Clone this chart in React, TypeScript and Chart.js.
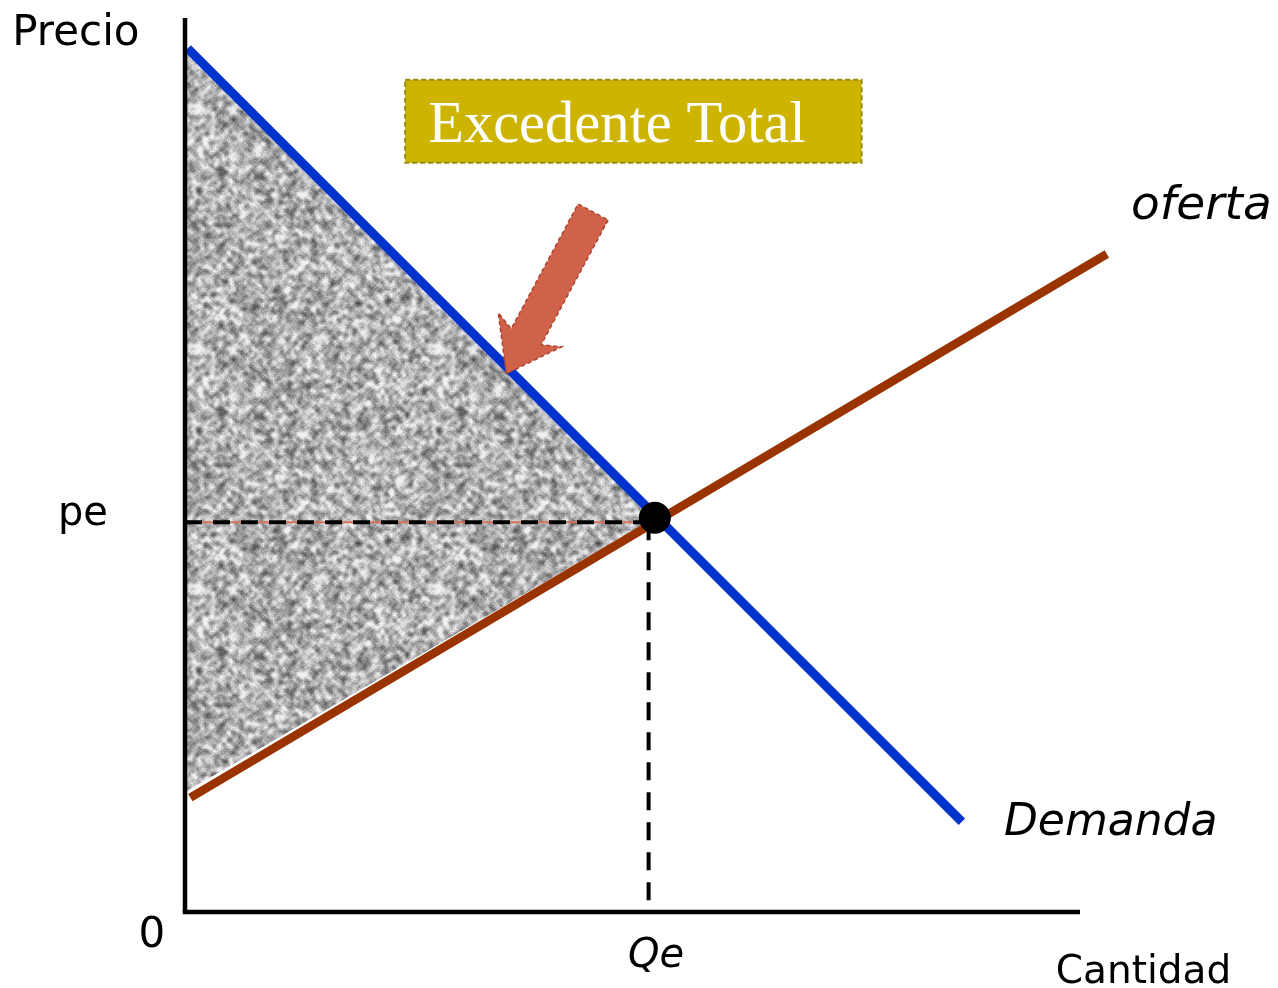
import React, { useEffect, useRef } from "react";
import { Chart, registerables } from "chart.js";

Chart.register(...registerables);

// ---- data (economic units, 0..100 on both axes) ----
const demandX = [0.3, 86.8];
const demandY = [96.6, 10.1];
const supplyX = [0.6, 103.0];
const supplyY = [12.8, 73.6];
const equilibriumQ = 52.5;
const equilibriumP = 44.1;
const peGuide = 43.6;
const qeGuide = 51.8;
const surplusTopY = 96.6;
const surplusBottomY = 13.4;
const axisMax = 100;

const axisTitles = ["Precio", "Cantidad"];
const tickLabels = ["0", "pe", "Qe"];
const curveLabels = ["oferta", "Demanda"];
const calloutText = "Excedente Total";

function hash(i: number, j: number) {
  const s = Math.sin(i * 127.1 + j * 311.7) * 43758.5453;
  return s - Math.floor(s);
}

function makeNoisePattern(ctx: CanvasRenderingContext2D) {
  const size = 240;
  const cell = 2;
  const n = size / cell;
  const c = document.createElement("canvas");
  c.width = size;
  c.height = size;
  const g = c.getContext("2d")!;
  const img = g.createImageData(size, size);
  const raw = (i: number, j: number) => hash(((i % n) + n) % n, ((j % n) + n) % n);
  // blurred cell noise
  const cellVal: number[] = [];
  for (let j = 0; j < n; j++)
    for (let i = 0; i < n; i++) {
      let s = 0, w = 0;
      for (let dj = -1; dj <= 1; dj++)
        for (let di = -1; di <= 1; di++) {
          const ww = di === 0 && dj === 0 ? 3 : 1;
          s += raw(i + di, j + dj) * ww;
          w += ww;
        }
      cellVal.push(s / w);
    }
  const cv = (i: number, j: number) => cellVal[(((j % n) + n) % n) * n + (((i % n) + n) % n)];
  for (let y = 0; y < size; y++) {
    for (let x = 0; x < size; x++) {
      const fx = x / cell - 0.5, fy = y / cell - 0.5;
      const i0 = Math.floor(fx), j0 = Math.floor(fy);
      const tx = fx - i0, ty = fy - j0;
      const a = cv(i0, j0) * (1 - tx) + cv(i0 + 1, j0) * tx;
      const b = cv(i0, j0 + 1) * (1 - tx) + cv(i0 + 1, j0 + 1) * tx;
      const v0 = a * (1 - ty) + b * ty;
      const fine = hash(x + 977, y + 313) - 0.5;
      let v = 176 + (v0 - 0.5) * 300 + fine * 30;
      v = Math.max(55, Math.min(240, v));
      const k = (y * size + x) * 4;
      img.data[k] = v;
      img.data[k + 1] = v;
      img.data[k + 2] = v + 3;
      img.data[k + 3] = 255;
    }
  }
  g.putImageData(img, 0, 0);
  return ctx.createPattern(c, "repeat")!;
}

const annotationPlugin = {
  id: "econAnnotations",
  afterDatasetsDraw(chart: any) {
    const ctx: CanvasRenderingContext2D = chart.ctx;
    const xs = chart.scales.x;
    const ys = chart.scales.y;
    const px = (v: number) => xs.getPixelForValue(v);
    const py = (v: number) => ys.getPixelForValue(v);
    ctx.save();
    ctx.textAlign = "left";
    ctx.textBaseline = "alphabetic";
    ctx.fillStyle = "#000";

    ctx.font = "42px 'DejaVu Sans'";
    ctx.fillText(axisTitles[0], px(-19.3), py(97.0));
    ctx.font = "39px 'DejaVu Sans'";
    ctx.fillText(axisTitles[1], px(97.3), py(-7.9));
    ctx.font = "42px 'DejaVu Sans'";
    ctx.fillText(tickLabels[0], px(-5.2), py(-3.9));
    ctx.font = "40px 'DejaVu Sans'";
    ctx.fillText(tickLabels[1], px(-14.2), py(43.3));
    ctx.font = "italic 40px 'DejaVu Sans'";
    ctx.fillText(tickLabels[2], px(49.5), py(-6.15));
    ctx.font = "italic 47px 'DejaVu Sans'";
    ctx.fillText(curveLabels[0], px(105.7), py(77.5));
    ctx.font = "italic 44px 'DejaVu Sans'";
    ctx.fillText(curveLabels[1], px(91.5), py(8.6));

    // callout box
    const bx0 = px(24.6), bx1 = px(75.6), by0 = py(93.1), by1 = py(83.8);
    ctx.fillStyle = "#CCB400";
    ctx.fillRect(bx0, by0, bx1 - bx0, by1 - by0);
    ctx.setLineDash([5, 3]);
    ctx.strokeStyle = "#9A8C10";
    ctx.lineWidth = 2;
    ctx.strokeRect(bx0, by0, bx1 - bx0, by1 - by0);
    ctx.setLineDash([]);
    ctx.fillStyle = "#FFFFFF";
    ctx.font = "58.5px 'Liberation Serif'";
    ctx.fillText(calloutText, bx0 + 23, by0 + 62);

    // arrow
    const tx = px(45.6), ty = py(78.3);
    const hx = px(35.9), hy = py(60.2);
    const ang = Math.atan2(hy - ty, hx - tx);
    const len = Math.hypot(hx - tx, hy - ty);
    ctx.translate(tx, ty);
    ctx.rotate(ang);
    const sw = 17, hw = 36, hl = 42;
    ctx.beginPath();
    ctx.moveTo(0, -sw);
    ctx.lineTo(len - hl, -sw);
    ctx.lineTo(len - hl - 8, -hw);
    ctx.lineTo(len, 0);
    ctx.lineTo(len - hl - 8, hw);
    ctx.lineTo(len - hl, sw);
    ctx.lineTo(0, sw);
    ctx.closePath();
    ctx.fillStyle = "#D0624A";
    ctx.fill();
    ctx.setLineDash([4, 3]);
    ctx.strokeStyle = "#A8442E";
    ctx.lineWidth = 1.5;
    ctx.stroke();
    ctx.restore();
  },
};

export default function App() {
  const ref = useRef<HTMLCanvasElement>(null);
  useEffect(() => {
    const canvas = ref.current!;
    const ctx = canvas.getContext("2d")!;
    const pattern = makeNoisePattern(ctx);
    const line = (pts: { x: number; y: number }[], extra: any) => ({
      type: "scatter",
      data: pts,
      showLine: true,
      pointRadius: 0,
      fill: false,
      clip: false,
      borderCapStyle: "butt",
      ...extra,
    });
    const chart = new Chart(ctx, {
      type: "scatter",
      data: {
        datasets: [
          line(
            [
              { x: 0, y: surplusTopY },
              { x: equilibriumQ, y: equilibriumP },
            ],
            { borderWidth: 0, borderColor: "rgba(0,0,0,0)", backgroundColor: pattern, fill: "+1", order: 10 }
          ),
          line(
            [
              { x: 0, y: surplusBottomY },
              { x: equilibriumQ, y: equilibriumP },
            ],
            { borderWidth: 0, borderColor: "rgba(0,0,0,0)", order: 11 }
          ),
          line(
            [
              { x: 0, y: peGuide },
              { x: qeGuide, y: peGuide },
            ],
            { borderWidth: 2, borderColor: "#D87058", order: 9 }
          ),
          line(
            [
              { x: 0, y: peGuide },
              { x: qeGuide, y: peGuide },
            ],
            { borderWidth: 4, borderColor: "#000", borderDash: [17, 11], order: 8 }
          ),
          line(
            [
              { x: qeGuide, y: peGuide },
              { x: qeGuide, y: 0.8 },
            ],
            { borderWidth: 4, borderColor: "#000", borderDash: [18, 12], order: 7 }
          ),
          line(
            supplyX.map((x, i) => ({ x, y: supplyY[i] })),
            { borderWidth: 8.5, borderColor: "#993300", order: 6 }
          ),
          line(
            demandX.map((x, i) => ({ x, y: demandY[i] })),
            { borderWidth: 9, borderColor: "#0033CC", order: 5 }
          ),
          line(
            [
              { x: 0, y: 0 },
              { x: 0, y: axisMax },
            ],
            { borderWidth: 4.5, borderColor: "#000", order: 4 }
          ),
          line(
            [
              { x: -0.25, y: 0 },
              { x: axisMax, y: 0 },
            ],
            { borderWidth: 4.5, borderColor: "#000", order: 3 }
          ),
          {
            type: "scatter",
            data: [{ x: equilibriumQ, y: equilibriumP }],
            pointRadius: 16,
            pointBackgroundColor: "#000",
            pointBorderWidth: 0,
            clip: false,
            order: 1,
          },
        ] as any,
      },
      options: {
        animation: false,
        responsive: false,
        devicePixelRatio: 1,
        layout: { padding: { left: 185, right: 198, top: 18, bottom: 76 } },
        scales: {
          x: { type: "linear", min: 0, max: axisMax, display: false },
          y: { type: "linear", min: 0, max: axisMax, display: false },
        },
        plugins: { legend: { display: false }, tooltip: { enabled: false } },
        events: [],
      } as any,
      plugins: [annotationPlugin],
    });
    return () => chart.destroy();
  }, []);
  return (
    <div style={{ position: "fixed", left: 0, top: 0, width: 1278, height: 988, background: "#fff" }}>
      <canvas ref={ref} width={1278} height={988} style={{ display: "block" }} />
    </div>
  );
}
